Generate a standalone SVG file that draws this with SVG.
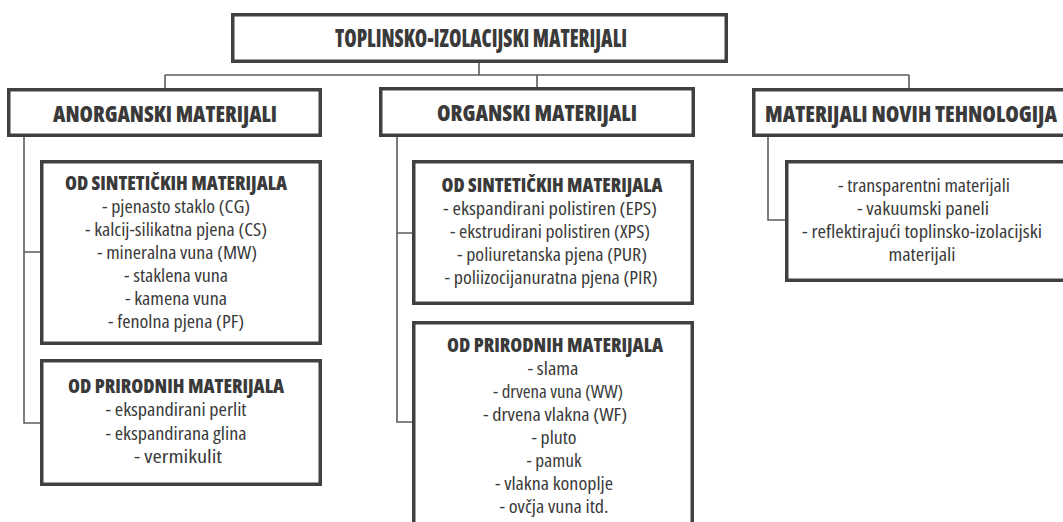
<svg xmlns="http://www.w3.org/2000/svg" width="1063" height="522" viewBox="0 0 1063 522">
<style>
.box{fill:#fff;stroke:#404040;stroke-width:3.5}
.con{fill:none;stroke:#5c5c5c;stroke-width:1.6}
text{font-family:"Open Sans","Liberation Sans",sans-serif;font-stretch:condensed;fill:#3a3a3a;text-anchor:middle}
.t{font-size:25px;font-weight:800}
.h{font-size:23px;font-weight:800}
.s{font-size:19px;font-weight:800}
.b{font-size:18px}
</style>
<rect width="1063" height="522" fill="#fff"/>
<g id="connectors">
<path class="con" d="M479,63V75M165,75H909M165,75V88M537,75V88M909,75V88"/>
<path class="con" d="M24,137V423H40M24,252H40"/>
<path class="con" d="M397,137V422H412M397,233H412"/>
<path class="con" d="M768,137V220H785"/>
</g>
<g id="root">
<rect class="box" x="232.75" y="14.75" width="493.5" height="46.5"/>
<text class="t" x="481" y="47" textLength="292" lengthAdjust="spacingAndGlyphs">TOPLINSKO-IZOLACIJSKI MATERIJALI</text>
</g>
<g id="anorganski">
<rect class="box" x="8.75" y="89.75" width="311.5" height="45.5"/>
<text class="h" x="165" y="122" textLength="224" lengthAdjust="spacingAndGlyphs">ANORGANSKI MATERIJALI</text>
</g>
<g id="organski">
<rect class="box" x="380.75" y="88.75" width="312.5" height="46.5"/>
<text class="h" x="537" y="121" textLength="200" lengthAdjust="spacingAndGlyphs">ORGANSKI MATERIJALI</text>
</g>
<g id="novih">
<rect class="box" x="753.75" y="89.75" width="320" height="45.5"/>
<text class="h" x="911" y="122" textLength="292" lengthAdjust="spacingAndGlyphs">MATERIJALI NOVIH TEHNOLOGIJA</text>
</g>
<g id="anorg-sint">
<rect class="box" x="41.75" y="161.75" width="278.5" height="181.5"/>
<text class="s" x="176" y="190" textLength="222" lengthAdjust="spacingAndGlyphs">OD SINTETIČKIH MATERIJALA</text>
<text class="b" x="176" y="213" textLength="148" lengthAdjust="spacingAndGlyphs">- pjenasto staklo (CG)</text>
<text class="b" x="176" y="236" textLength="182" lengthAdjust="spacingAndGlyphs">- kalcij-silikatna pjena (CS)</text>
<text class="b" x="177" y="259" textLength="160" lengthAdjust="spacingAndGlyphs">- mineralna vuna (MW)</text>
<text class="b" x="176" y="282" textLength="104" lengthAdjust="spacingAndGlyphs">- staklena vuna</text>
<text class="b" x="176" y="305" textLength="102" lengthAdjust="spacingAndGlyphs">- kamena vuna</text>
<text class="b" x="176" y="328" textLength="136" lengthAdjust="spacingAndGlyphs">- fenolna pjena (PF)</text>
</g>
<g id="anorg-prir">
<rect class="box" x="41.75" y="360.75" width="278.5" height="123.5"/>
<text class="s" x="176" y="393" textLength="216" lengthAdjust="spacingAndGlyphs">OD PRIRODNIH MATERIJALA</text>
<text class="b" x="176" y="416" textLength="141" lengthAdjust="spacingAndGlyphs">- ekspandirani perlit</text>
<text class="b" x="176" y="440" textLength="141" lengthAdjust="spacingAndGlyphs">- ekspandirana glina</text>
<text class="b" x="178" y="463" textLength="88" lengthAdjust="spacingAndGlyphs">- vermikulit</text>
</g>
<g id="org-sint">
<rect class="box" x="413.75" y="161.75" width="278.5" height="141.5"/>
<text class="s" x="552" y="192" textLength="221" lengthAdjust="spacingAndGlyphs">OD SINTETIČKIH MATERIJALA</text>
<text class="b" x="550" y="215" textLength="214" lengthAdjust="spacingAndGlyphs">- ekspandirani polistiren (EPS)</text>
<text class="b" x="550" y="238" textLength="200" lengthAdjust="spacingAndGlyphs">- ekstrudirani polistiren (XPS)</text>
<text class="b" x="552" y="261" textLength="190" lengthAdjust="spacingAndGlyphs">- poliuretanska pjena (PUR)</text>
<text class="b" x="551" y="284" textLength="213" lengthAdjust="spacingAndGlyphs">- poliizocijanuratna pjena (PIR)</text>
</g>
<g id="org-prir">
<rect class="box" x="413.75" y="322.75" width="278.5" height="210"/>
<text class="s" x="555" y="352" textLength="216" lengthAdjust="spacingAndGlyphs">OD PRIRODNIH MATERIJALA</text>
<text class="b" x="553" y="375" textLength="51" lengthAdjust="spacingAndGlyphs">- slama</text>
<text class="b" x="558" y="398" textLength="130" lengthAdjust="spacingAndGlyphs">- drvena vuna (WW)</text>
<text class="b" x="555" y="421" textLength="144" lengthAdjust="spacingAndGlyphs">- drvena vlakna (WF)</text>
<text class="b" x="554" y="444" textLength="45" lengthAdjust="spacingAndGlyphs">- pluto</text>
<text class="b" x="554" y="467" textLength="55" lengthAdjust="spacingAndGlyphs">- pamuk</text>
<text class="b" x="554" y="490" textLength="118" lengthAdjust="spacingAndGlyphs">- vlakna konoplje</text>
<text class="b" x="554" y="513" textLength="109" lengthAdjust="spacingAndGlyphs">- ovčja vuna itd.</text>
</g>
<g id="novih-list">
<rect class="box" x="786.75" y="161.75" width="280" height="118.5"/>
<text class="b" x="924" y="192" textLength="172" lengthAdjust="spacingAndGlyphs">- transparentni materijali</text>
<text class="b" x="923" y="215" textLength="132" lengthAdjust="spacingAndGlyphs">- vakuumski paneli</text>
<text class="b" x="922" y="238" textLength="240" lengthAdjust="spacingAndGlyphs">- reflektirajući toplinsko-izolacijski</text>
<text class="b" x="922" y="261" textLength="67" lengthAdjust="spacingAndGlyphs">materijali</text>
</g>
</svg>
